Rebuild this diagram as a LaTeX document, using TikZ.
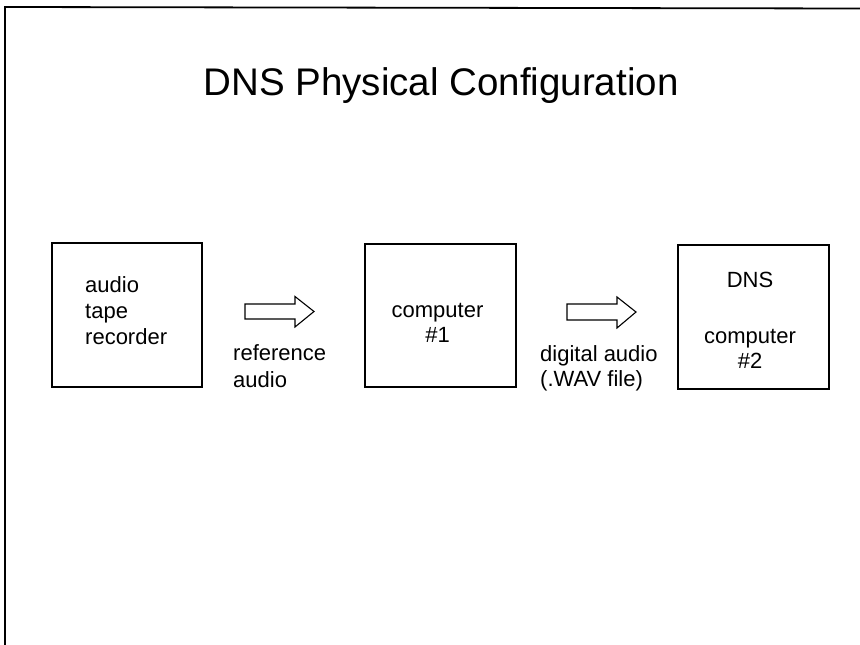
\documentclass[tikz,border=0pt]{standalone}
\usepackage{fontspec}
\setmainfont{Liberation Sans}
\begin{document}
\begin{tikzpicture}[x=1pt,y=1pt,
  box/.style={draw, line width=1.2pt, inner sep=0pt, minimum width=#1},
  box/.default=151pt,
  txt/.style={inner sep=0pt, font=\fontsize{22}{26}\selectfont},
  blockarrow/.style={draw, line width=1.1pt, line join=miter}]
\useasboundingbox (0,0) rectangle (860,-645);
% frame
\draw[line width=1.8pt] (5,-645) -- (5,-7) -- (860,-8.5);
% title
\node[inner sep=0pt, anchor=base, font=\fontsize{38.5}{46}\selectfont] (title) at (441,-95) {DNS Physical Configuration};
% boxes
\node[box=150pt, minimum height=144pt] (b1) at (127,-315) {};
\node[box, minimum height=143pt] (b2) at (440.5,-315.5) {};
\node[box, minimum height=144pt] (b3) at (753.5,-317) {};
% box texts
\node[txt, anchor=base west] (b1l1) at (85,-292) {audio};
\node[txt, anchor=base west] (b1l2) at (85,-318) {tape};
\node[txt, anchor=base west] (b1l3) at (85,-344) {recorder};
\node[txt, anchor=base] (b2l1) at (437.5,-317) {computer};
\node[txt, anchor=base] (b2l2) at (437.5,-342) {\#1};
\node[txt, anchor=base] (b3l1) at (750,-287) {DNS};
\node[txt, anchor=base] (b3l2) at (750,-343) {computer};
\node[txt, anchor=base] (b3l3) at (750,-368) {\#2};
% arrow labels
\node[txt, anchor=base west] (l1a) at (233,-360) {reference};
\node[txt, anchor=base west] (l1b) at (233,-387) {audio};
\node[txt, anchor=base west] (l2a) at (540,-361) {digital audio};
\node[txt, anchor=base west] (l2b) at (540,-386) {(.WAV file)};
% block arrows
\coordinate (a1) at (245,-311.5);
\coordinate (a2) at (567,-312);
\draw[blockarrow] (a1) ++(0,7.5) -- ++(50,0) -- ++(0,7.5) -- ++(19,-15) -- ++(-19,-15.5) -- ++(0,8) -- ++(-50,0) -- cycle;
\draw[blockarrow] (a2) ++(0,8) -- ++(50,0) -- ++(0,7) -- ++(19,-15) -- ++(-19,-16) -- ++(0,8) -- ++(-50,0) -- cycle;
\end{tikzpicture}
\end{document}
